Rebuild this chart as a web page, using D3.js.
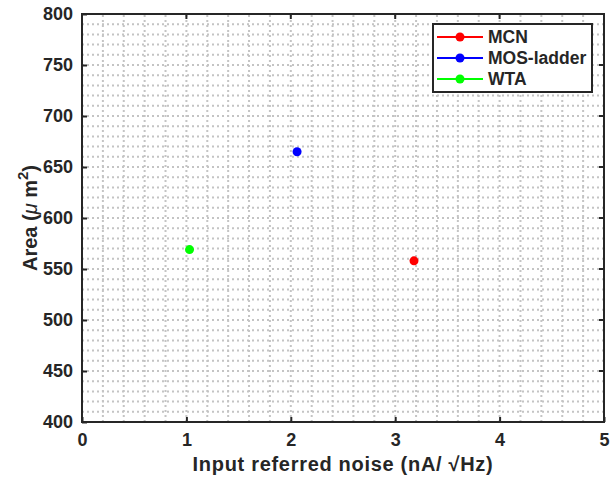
<!DOCTYPE html>
<html>
<head>
<script src="https://cdnjs.cloudflare.com/ajax/libs/d3/7.8.5/d3.min.js"></script>
<style>
  body { margin: 0; background: #fff; }
  text { font-family: "Liberation Sans", Arial, sans-serif; font-weight: bold; fill: #262626; }
</style>
</head>
<body>
<script>
var methods = ['MCN', 'MOS-ladder', 'WTA'];
var noise = [3.18, 2.06, 1.03];
var area = [558, 665, 569];
var colors = ['#ff0000', '#0000ff', '#00ff00'];
var xTicks = [0, 1, 2, 3, 4, 5];
var yTicks = [400, 450, 500, 550, 600, 650, 700, 750, 800];

var W = 611, H = 477;
var m = { left: 82, right: 7, top: 14, bottom: 55 };

var svg = d3.select('body').append('svg')
  .attr('width', W).attr('height', H);

var x = d3.scaleLinear().domain([0, 5]).range([m.left, W - m.right]);
var y = d3.scaleLinear().domain([400, 800]).range([H - m.bottom, m.top]);

// minor grid
var grid = svg.append('g');
d3.range(0.2, 4.9, 0.2).forEach(function(v) {
  grid.append('line')
    .attr('x1', x(v)).attr('x2', x(v))
    .attr('y1', y(400)).attr('y2', y(800))
    .attr('stroke', '#c4c4c4').attr('stroke-width', 2)
    .attr('stroke-dasharray', '2,3');
});
d3.range(410, 800, 10).forEach(function(v) {
  grid.append('line')
    .attr('x1', x(0)).attr('x2', x(5))
    .attr('y1', y(v)).attr('y2', y(v))
    .attr('stroke', '#c4c4c4').attr('stroke-width', 2)
    .attr('stroke-dasharray', '2,3');
});

// axes
var xAxis = d3.axisBottom(x).tickValues(xTicks).tickSize(-5).tickPadding(11)
  .tickFormat(d3.format('d'));
var yAxis = d3.axisLeft(y).tickValues(yTicks).tickSize(-5).tickPadding(9)
  .tickFormat(d3.format('d'));

var gx = svg.append('g').attr('transform', 'translate(0,' + y(400) + ')').call(xAxis);
var gy = svg.append('g').attr('transform', 'translate(' + x(0) + ',0)').call(yAxis);
[gx, gy].forEach(function(g) {
  g.select('.domain').remove();
  g.selectAll('line').attr('stroke', '#262626').attr('stroke-width', 2);
  g.selectAll('text').style('font-size', '18px').attr('fill', '#262626');
});

// top/right ticks
xTicks.forEach(function(v) {
  svg.append('line').attr('x1', x(v)).attr('x2', x(v))
    .attr('y1', y(800)).attr('y2', y(800) + 5)
    .attr('stroke', '#262626').attr('stroke-width', 2);
});
yTicks.forEach(function(v) {
  svg.append('line').attr('x1', x(5)).attr('x2', x(5) - 5)
    .attr('y1', y(v)).attr('y2', y(v))
    .attr('stroke', '#262626').attr('stroke-width', 2);
});

// box
svg.append('rect')
  .attr('x', x(0)).attr('y', y(800))
  .attr('width', x(5) - x(0)).attr('height', y(400) - y(800))
  .attr('fill', 'none').attr('stroke', '#262626').attr('stroke-width', 2);

// points
svg.selectAll('circle.pt').data(methods).enter().append('circle')
  .attr('class', 'pt')
  .attr('cx', function(d, i) { return x(noise[i]); })
  .attr('cy', function(d, i) { return y(area[i]); })
  .attr('r', 4.5)
  .attr('fill', function(d, i) { return colors[i]; });

// axis labels
svg.append('text')
  .attr('x', (x(0) + x(5)) / 2).attr('y', 471)
  .attr('text-anchor', 'middle').style('font-size', '20px')
  .style('letter-spacing', '0.7px')
  .text('Input referred noise (nA/ \u221AHz)');

var yl = svg.append('text')
  .attr('transform', 'translate(37,' + (y(600)) + ') rotate(-90)')
  .attr('text-anchor', 'middle').style('font-size', '20px');
yl.append('tspan').text('Area (');
yl.append('tspan').style('font-style', 'italic').style('font-weight', 'normal').text('\u03BC');
yl.append('tspan').text(' m');
yl.append('tspan').attr('dy', -9).style('font-size', '15px').text('2');
yl.append('tspan').attr('dy', 9).text(')');

// legend
var lg = svg.append('g').attr('transform', 'translate(433,24)');
lg.append('rect').attr('width', 159).attr('height', 68)
  .attr('fill', '#fff').attr('stroke', '#262626').attr('stroke-width', 2);
methods.forEach(function(d, i) {
  var yy = 13 + i * 21;
  lg.append('line').attr('x1', 4).attr('x2', 50).attr('y1', yy).attr('y2', yy)
    .attr('stroke', colors[i]).attr('stroke-width', 2);
  lg.append('circle').attr('cx', 27).attr('cy', yy).attr('r', 4.5).attr('fill', colors[i]);
  lg.append('text').attr('x', 55).attr('y', yy + 6).style('font-size', '17.5px').text(d);
});
</script>
</body>
</html>
